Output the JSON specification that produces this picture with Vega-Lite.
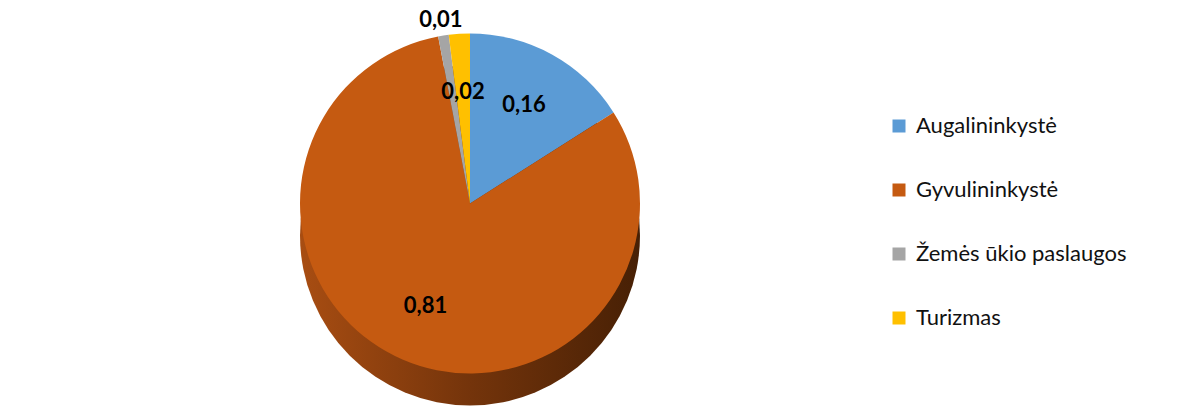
{
  "$schema": "https://vega.github.io/schema/vega-lite/v6.json",
  "width": 940,
  "height": 407,
  "padding": 0,
  "autosize": {"type": "pad"},
  "config": {
    "view": {"stroke": null},
    "font": "Lato",
    "locale": {"number": {"decimal": ",", "thousands": ".", "grouping": [3], "currency": ["", " €"]}}
  },
  "data": {"values": [
    {"category": "Augalininkystė", "value": 0.16},
    {"category": "Gyvulininkystė", "value": 0.81},
    {"category": "Žemės ūkio paslaugos", "value": 0.01},
    {"category": "Turizmas", "value": 0.02}
  ]},
  "transform": [{"window": [{"op": "row_number", "as": "n"}]}],
  "layer": [
    {
      "transform": [{"aggregate": [{"op": "sum", "field": "value", "as": "total"}]}],
      "mark": {
        "type": "arc",
        "outerRadius": 170,
        "yOffset": 32,
        "fill": {"gradient": "linear", "x1": 0, "y1": 0, "x2": 1, "y2": 0,
          "stops": [{"offset": 0, "color": "#a84d12"}, {"offset": 0.5, "color": "#74340b"}, {"offset": 1, "color": "#472005"}]}
      },
      "encoding": {"theta": {"field": "total", "type": "quantitative"}}
    },
    {
      "mark": {"type": "arc", "outerRadius": 170},
      "encoding": {
        "theta": {"field": "value", "type": "quantitative", "stack": true},
        "order": {"field": "n", "type": "quantitative"},
        "color": {
          "field": "category", "type": "nominal",
          "scale": {
            "domain": ["Augalininkystė", "Gyvulininkystė", "Žemės ūkio paslaugos", "Turizmas"],
            "range": ["#5b9bd5", "#c55a11", "#a5a5a5", "#ffc000"]
          },
          "legend": {
            "orient": "none", "legendX": 888, "legendY": 115, "title": null,
            "symbolType": "square", "symbolSize": 169, "symbolStrokeWidth": 0,
            "labelFont": "Lato", "labelFontSize": 22, "labelColor": "#111111",
            "labelOffset": 6, "rowPadding": 42, "labelLimit": 400
          }
        }
      }
    },
    {
      "mark": {"type": "text", "radius": 112, "fontSize": 22, "fontWeight": "bold", "font": "Lato", "color": "#000000"},
      "encoding": {
        "theta": {"field": "value", "type": "quantitative", "stack": true},
        "order": {"field": "n", "type": "quantitative"},
        "text": {"condition": {"test": "datum.value >= 0.02", "field": "value", "type": "quantitative", "format": ".2f"}, "value": ""}
      }
    },
    {
      "mark": {"type": "text", "radius": 186, "fontSize": 22, "fontWeight": "bold", "font": "Lato", "color": "#000000"},
      "encoding": {
        "theta": {"field": "value", "type": "quantitative", "stack": true},
        "order": {"field": "n", "type": "quantitative"},
        "text": {"condition": {"test": "datum.value < 0.02", "field": "value", "type": "quantitative", "format": ".2f"}, "value": ""}
      }
    }
  ]
}
